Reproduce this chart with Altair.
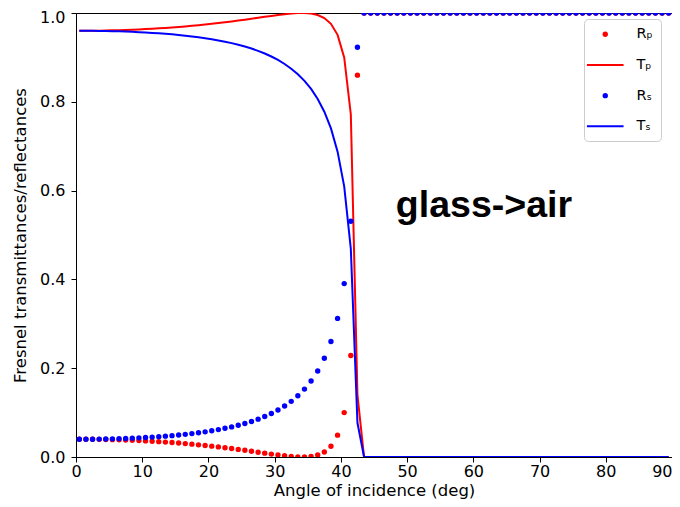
import altair as alt
import pandas as pd

angles = [
    0.5, 1.5, 2.5, 3.5, 4.5, 5.5, 6.5, 7.5, 8.5, 9.5,
    10.5, 11.5, 12.5, 13.5, 14.5, 15.5, 16.5, 17.5, 18.5, 19.5,
    20.5, 21.5, 22.5, 23.5, 24.5, 25.5, 26.5, 27.5, 28.5, 29.5,
    30.5, 31.5, 32.5, 33.5, 34.5, 35.5, 36.5, 37.5, 38.5, 39.5,
    40.5, 41.5, 42.5, 43.5, 44.5, 45.5, 46.5, 47.5, 48.5, 49.5,
    50.5, 51.5, 52.5, 53.5, 54.5, 55.5, 56.5, 57.5, 58.5, 59.5,
    60.5, 61.5, 62.5, 63.5, 64.5, 65.5, 66.5, 67.5, 68.5, 69.5,
    70.5, 71.5, 72.5, 73.5, 74.5, 75.5, 76.5, 77.5, 78.5, 79.5,
    80.5, 81.5, 82.5, 83.5, 84.5, 85.5, 86.5, 87.5, 88.5, 89.5,
]

R_p = [
    0.0400, 0.0400, 0.0399, 0.0397, 0.0394, 0.0391, 0.0387, 0.0382, 0.0376, 0.0370,
    0.0363, 0.0355, 0.0346, 0.0336, 0.0326, 0.0315, 0.0302, 0.0289, 0.0274, 0.0259,
    0.0244, 0.0227, 0.0209, 0.0190, 0.0171, 0.0151, 0.0129, 0.0108, 0.0087, 0.0066,
    0.0046, 0.0028, 0.0013, 0.0002, 0.0001, 0.0012, 0.0045, 0.0113, 0.0243, 0.0492,
    0.1000, 0.2285, 0.8600, 1.0, 1.0, 1.0, 1.0, 1.0, 1.0, 1.0,
    1.0, 1.0, 1.0, 1.0, 1.0, 1.0, 1.0, 1.0, 1.0, 1.0,
    1.0, 1.0, 1.0, 1.0, 1.0, 1.0, 1.0, 1.0, 1.0, 1.0,
    1.0, 1.0, 1.0, 1.0, 1.0, 1.0, 1.0, 1.0, 1.0, 1.0,
    1.0, 1.0, 1.0, 1.0, 1.0, 1.0, 1.0, 1.0, 1.0, 1.0,
]

T_p = [
    0.9600, 0.9600, 0.9601, 0.9603, 0.9606, 0.9609, 0.9613, 0.9618, 0.9624, 0.9630,
    0.9637, 0.9645, 0.9654, 0.9664, 0.9674, 0.9685, 0.9698, 0.9711, 0.9726, 0.9741,
    0.9756, 0.9773, 0.9791, 0.9810, 0.9829, 0.9849, 0.9871, 0.9892, 0.9913, 0.9934,
    0.9954, 0.9972, 0.9987, 0.9998, 0.9999, 0.9988, 0.9955, 0.9887, 0.9757, 0.9508,
    0.9000, 0.7715, 0.1400, 0.0, 0.0, 0.0, 0.0, 0.0, 0.0, 0.0,
    0.0, 0.0, 0.0, 0.0, 0.0, 0.0, 0.0, 0.0, 0.0, 0.0,
    0.0, 0.0, 0.0, 0.0, 0.0, 0.0, 0.0, 0.0, 0.0, 0.0,
    0.0, 0.0, 0.0, 0.0, 0.0, 0.0, 0.0, 0.0, 0.0, 0.0,
    0.0, 0.0, 0.0, 0.0, 0.0, 0.0, 0.0, 0.0, 0.0, 0.0,
]

R_s = [
    0.0400, 0.0400, 0.0401, 0.0403, 0.0406, 0.0409, 0.0413, 0.0418, 0.0424, 0.0431,
    0.0439, 0.0448, 0.0458, 0.0469, 0.0481, 0.0495, 0.0510, 0.0527, 0.0546, 0.0567,
    0.0591, 0.0617, 0.0646, 0.0678, 0.0714, 0.0755, 0.0801, 0.0853, 0.0912, 0.0980,
    0.1058, 0.1148, 0.1254, 0.1379, 0.1529, 0.1711, 0.1937, 0.2223, 0.2600, 0.3122,
    0.3905, 0.5310, 0.9230, 1.0, 1.0, 1.0, 1.0, 1.0, 1.0, 1.0,
    1.0, 1.0, 1.0, 1.0, 1.0, 1.0, 1.0, 1.0, 1.0, 1.0,
    1.0, 1.0, 1.0, 1.0, 1.0, 1.0, 1.0, 1.0, 1.0, 1.0,
    1.0, 1.0, 1.0, 1.0, 1.0, 1.0, 1.0, 1.0, 1.0, 1.0,
    1.0, 1.0, 1.0, 1.0, 1.0, 1.0, 1.0, 1.0, 1.0, 1.0,
]

T_s = [
    0.9600, 0.9600, 0.9599, 0.9597, 0.9594, 0.9591, 0.9587, 0.9582, 0.9576, 0.9569,
    0.9561, 0.9552, 0.9542, 0.9531, 0.9519, 0.9505, 0.9490, 0.9473, 0.9454, 0.9433,
    0.9409, 0.9383, 0.9354, 0.9322, 0.9286, 0.9245, 0.9199, 0.9147, 0.9088, 0.9020,
    0.8942, 0.8852, 0.8746, 0.8621, 0.8471, 0.8289, 0.8063, 0.7777, 0.7400, 0.6878,
    0.6095, 0.4690, 0.0770, 0.0, 0.0, 0.0, 0.0, 0.0, 0.0, 0.0,
    0.0, 0.0, 0.0, 0.0, 0.0, 0.0, 0.0, 0.0, 0.0, 0.0,
    0.0, 0.0, 0.0, 0.0, 0.0, 0.0, 0.0, 0.0, 0.0, 0.0,
    0.0, 0.0, 0.0, 0.0, 0.0, 0.0, 0.0, 0.0, 0.0, 0.0,
    0.0, 0.0, 0.0, 0.0, 0.0, 0.0, 0.0, 0.0, 0.0, 0.0,
]

series_names = ["Rₚ", "Tₚ", "Rₛ", "Tₛ"]
series_colors = ["#ff0000", "#ff0000", "#0000ff", "#0000ff"]
x_ticks = [0, 10, 20, 30, 40, 50, 60, 70, 80, 90]
y_ticks = [0.0, 0.2, 0.4, 0.6, 0.8, 1.0]
annotation_text = ["glass->air"]

rows = []
for name, vals in zip(series_names, [R_p, T_p, R_s, T_s]):
    for a, v in zip(angles, vals):
        rows.append({"angle": a, "value": v, "series": name})
df = pd.DataFrame(rows)

DOT_SIZE = 29
LINE_SHAPE = "M-6.8,-0.37H6.8V0.37H-6.8Z"

legend = alt.Legend(
    title=None, orient="none", legendX=508, legendY=6,
    symbolSize=DOT_SIZE, padding=8, rowPadding=15.7,
    symbolOffset=6, labelOffset=24,
    labelFont="DejaVu Sans", labelFontSize=14.5, labelColor="black",
    strokeColor="#cccccc", fillColor="rgba(255,255,255,0.8)", cornerRadius=4,
    symbolStrokeWidth=0, symbolOpacity=1,
    labelExpr="datum.label + '\u00a0'",
)

x_enc = alt.X("angle:Q", scale=alt.Scale(domain=[0, 90], nice=False, zero=False),
              axis=alt.Axis(values=x_ticks, format="d", title="Angle of incidence (deg)",
                            labelFlush=False, labelPadding=1.5,
                            titleY=38.5, titleBaseline="alphabetic",
                            labelAlign={"condition": {"test": "datum.value == 90", "value": "right"},
                                        "value": "center"}))
y_enc = alt.Y("value:Q", scale=alt.Scale(domain=[0, 1], nice=False, zero=False),
              axis=alt.Axis(values=y_ticks, format=".1f", title="Fresnel transmittances/reflectances",
                            labelFlush=False, labelPadding=6,
                            titleX=-56, titleY=222, titleBaseline="middle",
                            labelOffset={"condition": {"test": "datum.value == 1", "value": 4},
                                         "value": 0}))
color_enc = alt.Color("series:N", scale=alt.Scale(domain=series_names, range=series_colors), legend=legend)
shape_enc = alt.Shape("series:N",
                      scale=alt.Scale(domain=series_names, range=["circle", LINE_SHAPE, "circle", LINE_SHAPE]),
                      legend=legend)

base = alt.Chart(df)

def dots(name):
    return base.transform_filter(alt.datum.series == name).mark_point(
        filled=True, size=DOT_SIZE, opacity=1, clip=True, strokeWidth=0
    ).encode(x=x_enc, y=y_enc, color=color_enc, shape=shape_enc)

def line(name):
    return base.transform_filter(alt.datum.series == name).mark_line(
        strokeWidth=2, clip=True
    ).encode(x=x_enc, y=y_enc, color=color_enc)

text = alt.Chart(pd.DataFrame({"label": annotation_text})).mark_text(
    font="Liberation Sans", fontSize=37.5, fontWeight="bold", align="left",
    baseline="alphabetic", color="black"
).encode(x=alt.datum(48.3), y=alt.datum(0.54), text="label:N")

chart = alt.layer(
    dots("Rₚ"), line("Tₚ"), dots("Rₛ"), line("Tₛ"), text
).properties(
    width=596, height=444,
    autosize=alt.AutoSizeParams(type="none"),
    padding={"left": 68, "top": 5, "right": 0, "bottom": 42},
).configure_view(
    stroke="black", strokeWidth=1
).configure_axis(
    domainColor="black", domainWidth=1, tickColor="black", tickSize=5, tickWidth=1,
    labelFont="DejaVu Sans", labelFontSize=16, labelColor="black",
    titleFont="DejaVu Sans", titleFontSize=16.5, titleFontWeight="normal", titleColor="black",
    grid=False,
)

chart.save("out.html", embed_options={"renderer": "svg", "actions": False})
